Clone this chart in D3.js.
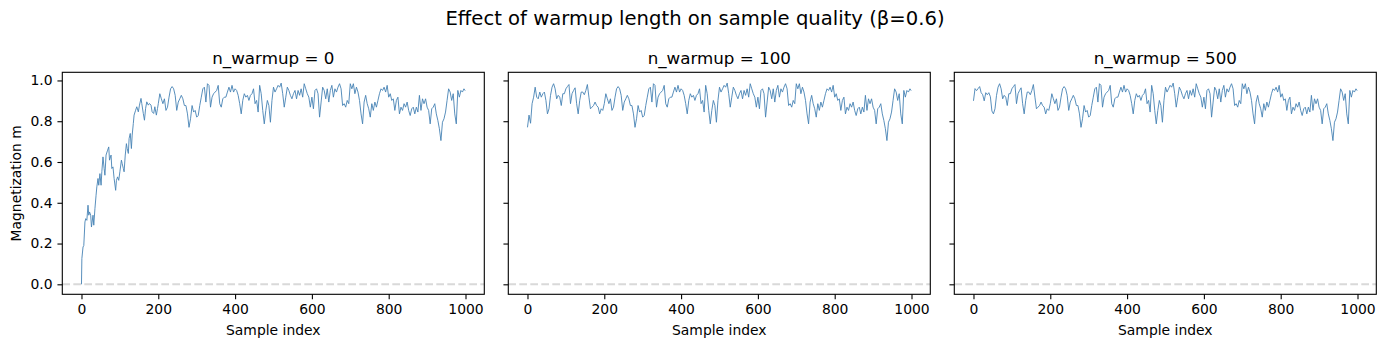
<!DOCTYPE html>
<html>
<head>
<meta charset="utf-8">
<script src="https://cdn.jsdelivr.net/npm/d3@7"></script>
<style>
  html, body { margin: 0; padding: 0; background: #fff; }
  svg { display: block; font-family: "DejaVu Sans", sans-serif; }
  .tick text { font-size: 13.9px; fill: #000; }
  .tick line { stroke: #000; stroke-width: 1.1; }
</style>
</head>
<body>
<svg id="chart" width="1386" height="348"></svg>
<script>
// panel settings
const warmups = [0, 100, 500];
const panelTitles = ["n_warmup = 0", "n_warmup = 100", "n_warmup = 500"];
const suptitle = "Effect of warmup length on sample quality (β=0.6)";
const xTicks = [0, 200, 400, 600, 800, 1000];
const yTicks = [0.0, 0.2, 0.4, 0.6, 0.8, 1.0];

// shared chain after coalescence, read every 4 samples (0..996) + last sample 999
const chainStep = 4;
const chainM = [
  0.77, 0.83, 0.79, 0.886, 0.918, 0.967, 0.918, 0.91, 0.943, 0.918,
  0.935, 0.943, 0.902, 0.836, 0.861, 0.927, 0.967, 0.984, 0.959, 0.91,
  0.927, 0.918, 0.877, 0.935, 0.935, 0.959, 0.97, 0.98, 0.886, 0.935,
  0.951, 0.964, 0.886, 0.836, 0.902, 0.943, 0.943, 0.93, 0.951, 0.98,
  0.918, 0.861, 0.869, 0.877, 0.894, 0.877, 0.869, 0.836, 0.861, 0.853,
  0.886, 0.935, 0.91, 0.886, 0.91, 0.853, 0.869, 0.918, 0.959, 0.97,
  0.959, 0.927, 0.853, 0.894, 0.91, 0.927, 0.91, 0.877, 0.877, 0.836,
  0.77, 0.812, 0.877, 0.845, 0.853, 0.82, 0.828, 0.877, 0.918,
  0.959, 0.967, 0.894, 0.984, 0.976, 0.869, 0.918, 0.935, 0.943, 0.951,
  0.976, 0.886, 0.869, 0.91, 0.918, 0.918, 0.943, 0.967, 0.943, 0.976,
  0.943, 0.959, 0.951, 0.927, 0.886, 0.836, 0.902, 0.935, 0.918, 0.927,
  0.902, 0.927, 0.935, 0.959, 0.886, 0.902, 0.845, 0.976, 0.935, 0.853,
  0.787, 0.853, 0.902, 0.877, 0.795, 0.902, 0.967, 0.943, 0.959, 0.976,
  0.967, 0.987, 0.935, 0.869, 0.918, 0.967, 0.951, 0.927, 0.91, 0.935,
  0.951, 0.91, 0.951, 0.927, 0.959, 0.918, 0.984, 0.959, 0.935, 0.918,
  0.869, 0.918, 0.861, 0.951, 0.959, 0.935, 0.82, 0.894, 0.967, 0.951,
  0.91, 0.959, 0.894,
  0.951, 0.976, 0.918, 0.959, 0.943, 0.967, 0.984, 0.959, 0.877, 0.886,
  0.869, 0.902, 0.886, 0.984, 0.959, 0.984, 0.935, 0.967, 0.943, 0.902,
  0.836, 0.787, 0.894, 0.927, 0.886, 0.861, 0.82, 0.886, 0.853, 0.894,
  0.869, 0.902, 0.935, 0.959, 0.951, 0.967, 0.943, 0.976, 0.918, 0.935,
  0.902, 0.91, 0.853, 0.902, 0.918, 0.836, 0.869, 0.853, 0.886, 0.869,
  0.894, 0.853, 0.828, 0.861, 0.869, 0.836, 0.869, 0.845, 0.927, 0.853,
  0.91, 0.886, 0.91, 0.869, 0.853, 0.787, 0.861, 0.869, 0.886, 0.836,
  0.804, 0.763, 0.705, 0.795, 0.812, 0.845, 0.902, 0.959, 0.943, 0.902,
  0.935, 0.836, 0.787, 0.951, 0.918, 0.951, 0.943, 0.959,
  0.95
];

// n_warmup = 0: burn-in from the zero state, joins the shared chain at sample 200
const head0Idx = [0, 1, 4, 6, 9, 11, 14, 17, 19, 21, 24, 26, 30, 32, 35, 38, 40, 43, 45, 48,
  51, 53, 56, 59, 61, 64, 68, 71, 73, 77, 79, 82, 85, 89, 91, 94, 97, 100, 104, 106,
  109, 111, 114, 117, 119, 122, 124, 127, 130, 132, 135, 137, 141, 144, 148, 151, 155, 157, 161, 164,
  167, 170, 174, 177, 181, 184, 188, 191, 195, 198];
const head0Val = [0.0, 0.126, 0.183, 0.19, 0.306, 0.322, 0.314, 0.388, 0.339, 0.355, 0.339, 0.281, 0.339, 0.29, 0.371, 0.437, 0.478, 0.519, 0.486, 0.543,
  0.486, 0.552, 0.625, 0.568, 0.535, 0.634, 0.658, 0.674, 0.609, 0.634, 0.568, 0.576, 0.519, 0.461, 0.51, 0.527, 0.51, 0.552, 0.609, 0.592,
  0.568, 0.552, 0.634, 0.69, 0.666, 0.642, 0.715, 0.74, 0.666, 0.732, 0.789, 0.83, 0.854, 0.871, 0.846, 0.879, 0.912, 0.887, 0.838, 0.805,
  0.863, 0.895, 0.879, 0.887, 0.879, 0.846, 0.838, 0.871, 0.83, 0.863];
const join0 = 200;

// n_warmup = 500: its own first samples (every 4), joins at sample 52
const head500 = [0.90, 0.96, 0.95, 0.96, 0.97, 0.94, 0.93, 0.90, 0.94, 0.93, 0.94, 0.92, 0.85];
const join500 = 52;

function chainPoints(fromIdx) {
  const pts = [];
  chainM.forEach((v, k) => {
    const i = Math.min(k * chainStep, 999);
    if (i >= fromIdx) pts.push([i, v]);
  });
  return pts;
}

const series = [
  head0Idx.map((i, k) => [i, head0Val[k]]).concat(chainPoints(join0)),
  chainPoints(0),
  head500.map((v, k) => [k * chainStep, v]).concat(chainPoints(join500))
];

const svg = d3.select("#chart");
const panelLeft = [62.3, 508.3, 954.3];
const panelW = 422, panelTop = 72.3, panelH = 222;
const tickLen = 4.86, tickPad = 4.86;

svg.append("text")
  .attr("x", 695).attr("y", 25)
  .attr("text-anchor", "middle")
  .style("font-size", "19.6px")
  .text(suptitle);

const y = d3.scaleLinear().domain([-0.049, 1.04]).range([panelTop + panelH, panelTop]);

warmups.forEach((w, p) => {
  const x0 = panelLeft[p];
  const x = d3.scaleLinear().domain([-49.95, 1048.95]).range([x0, x0 + panelW]);
  const g = svg.append("g");

  // dashed zero line across the axes
  g.append("line")
    .attr("x1", x0).attr("x2", x0 + panelW)
    .attr("y1", y(0)).attr("y2", y(0))
    .attr("stroke", "#808080").attr("stroke-opacity", 0.3)
    .attr("stroke-width", 2.08).attr("stroke-dasharray", "7.7,3.3");

  const line = d3.line().x(d => x(d[0])).y(d => y(d[1]));
  g.append("path")
    .datum(series[p])
    .attr("d", line)
    .attr("fill", "none")
    .attr("stroke", "#4682b4")
    .attr("stroke-width", 0.9)
    .attr("stroke-linejoin", "round");

  // frame
  g.append("rect")
    .attr("x", x0).attr("y", panelTop)
    .attr("width", panelW).attr("height", panelH)
    .attr("fill", "none").attr("stroke", "#000").attr("stroke-width", 1.1);

  const xAxis = g.append("g")
    .attr("transform", `translate(0,${panelTop + panelH})`)
    .call(d3.axisBottom(x).tickValues(xTicks).tickSize(tickLen).tickPadding(tickPad).tickSizeOuter(0).tickFormat(d3.format("d")));
  xAxis.select(".domain").remove();
  xAxis.attr("font-family", null).attr("font-size", null);

  const yAxis = g.append("g")
    .attr("transform", `translate(${x0},0)`)
    .call(d3.axisLeft(y).tickValues(yTicks).tickSize(tickLen).tickPadding(tickPad).tickSizeOuter(0).tickFormat(d3.format(".1f")));
  yAxis.select(".domain").remove();
  yAxis.attr("font-family", null).attr("font-size", null);
  if (p > 0) yAxis.selectAll("text").remove();

  g.append("text")
    .attr("x", x0 + panelW / 2).attr("y", panelTop - 8.3)
    .attr("text-anchor", "middle")
    .style("font-size", "16.7px")
    .text(panelTitles[p]);

  g.append("text")
    .attr("x", x0 + panelW / 2).attr("y", 334.5)
    .attr("text-anchor", "middle")
    .style("font-size", "13.9px")
    .text("Sample index");
});

svg.append("text")
  .attr("transform", `translate(21,${panelTop + panelH / 2}) rotate(-90)`)
  .attr("text-anchor", "middle")
  .style("font-size", "13.9px")
  .text("Magnetization m");
</script>
</body>
</html>
